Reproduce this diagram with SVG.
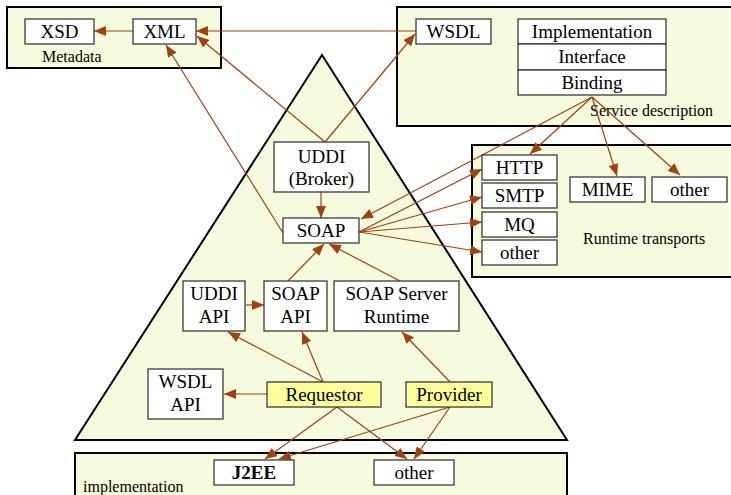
<svg xmlns="http://www.w3.org/2000/svg" width="731" height="495" viewBox="0 0 731 495">
<defs>
<style>
.cont{fill:#f5fbdc;stroke:#000;stroke-width:2}
.box{fill:#fff;stroke:#3a3a3a;stroke-width:1.3}
.ybox{fill:#ffff99;stroke:#3a3a3a;stroke-width:1.3}
.t{font-family:"Liberation Serif","Times New Roman",serif;font-size:19px;fill:#000;text-anchor:middle}
.lbl{font-family:"Liberation Serif","Times New Roman",serif;font-size:16px;fill:#000}
.c{stroke:#a3400e;stroke-width:1.2;fill:none;marker-end:url(#ah)}
</style>
<marker id="ah" viewBox="0 0 12 10" refX="12" refY="5" markerWidth="12" markerHeight="10" markerUnits="userSpaceOnUse" orient="auto">
<path d="M0,0 L12,5 L0,10 z" fill="#a3400e"/>
</marker>
</defs>
<rect width="731" height="495" fill="#fff"/>

<g id="metadata">
<rect class="cont" x="7" y="7" width="214" height="61"/>
<text class="lbl" x="42" y="62">Metadata</text>
</g>
<g id="service-description">
<rect class="cont" x="397" y="7" width="345" height="119"/>
<text class="lbl" x="590" y="116">Service description</text>
</g>
<g id="runtime-transports">
<rect class="cont" x="472" y="145" width="270" height="132"/>
<text class="lbl" x="583" y="244">Runtime transports</text>
</g>
<g id="implementation">
<rect class="cont" x="75" y="453" width="492" height="60"/>
<text class="lbl" x="83" y="492">implementation</text>
</g>
<g id="pyramid">
<polygon class="cont" points="322,55 75,440 567,440"/>
</g>

<g id="connectors">
<line class="c" x1="133" y1="31" x2="94" y2="31"/>
<line class="c" x1="416" y1="31" x2="196" y2="31"/>
<line class="c" x1="325" y1="142" x2="197" y2="36"/>
<line class="c" x1="325" y1="142" x2="415" y2="34"/>
<line class="c" x1="283" y1="233" x2="166" y2="45"/>
<line class="c" x1="321" y1="192" x2="321" y2="218"/>
<line class="c" x1="359" y1="232" x2="482" y2="169"/>
<line class="c" x1="359" y1="232" x2="482" y2="197"/>
<line class="c" x1="359" y1="232" x2="482" y2="222"/>
<line class="c" x1="359" y1="232" x2="482" y2="252"/>
<line class="c" x1="592" y1="97" x2="361" y2="219"/>
<line class="c" x1="592" y1="97" x2="530" y2="154"/>
<line class="c" x1="592" y1="97" x2="617" y2="176"/>
<line class="c" x1="592" y1="97" x2="680" y2="175"/>
<line class="c" x1="246" y1="305" x2="264" y2="305"/>
<line class="c" x1="288" y1="281" x2="324" y2="244"/>
<line class="c" x1="400" y1="281" x2="329" y2="244"/>
<line class="c" x1="323" y1="382" x2="228" y2="332"/>
<line class="c" x1="323" y1="382" x2="302" y2="332"/>
<line class="c" x1="267" y1="394" x2="224" y2="394"/>
<line class="c" x1="450" y1="382" x2="402" y2="332"/>
<line class="c" x1="337" y1="407" x2="265" y2="459"/>
<line class="c" x1="450" y1="407" x2="279" y2="459"/>
<line class="c" x1="337" y1="407" x2="407" y2="459"/>
<line class="c" x1="450" y1="407" x2="414" y2="459"/>
</g>

<g id="xsd"><rect class="box" x="25" y="19" width="69" height="25"/><text class="t" x="59.5" y="38">XSD</text></g>
<g id="xml"><rect class="box" x="133" y="19" width="63" height="25"/><text class="t" x="164.5" y="38">XML</text></g>
<g id="wsdl"><rect class="box" x="416" y="19" width="75" height="25"/><text class="t" x="453.5" y="38">WSDL</text></g>
<g id="impl-stack">
<rect class="box" x="518" y="19" width="148" height="25"/><text class="t" x="592" y="38">Implementation</text>
<rect class="box" x="518" y="44" width="148" height="26"/><text class="t" x="592" y="63">Interface</text>
<rect class="box" x="518" y="70" width="148" height="25"/><text class="t" x="592" y="88.5">Binding</text>
</g>
<g id="http"><rect class="box" x="482" y="155" width="75" height="25"/><text class="t" x="519.5" y="174">HTTP</text></g>
<g id="smtp"><rect class="box" x="482" y="183" width="75" height="25"/><text class="t" x="519.5" y="202">SMTP</text></g>
<g id="mq"><rect class="box" x="482" y="212" width="75" height="25"/><text class="t" x="519.5" y="231">MQ</text></g>
<g id="other-transport"><rect class="box" x="482" y="240" width="75" height="25"/><text class="t" x="519.5" y="259">other</text></g>
<g id="mime"><rect class="box" x="570" y="177" width="75" height="25"/><text class="t" x="607.5" y="196">MIME</text></g>
<g id="other-desc"><rect class="box" x="652" y="177" width="75" height="25"/><text class="t" x="689.5" y="196">other</text></g>
<g id="uddi-broker"><rect class="box" x="274" y="142" width="95" height="50"/><text class="t" x="321.5" y="163">UDDI</text><text class="t" x="321.5" y="185">(Broker)</text></g>
<g id="soap"><rect class="box" x="283" y="218" width="76" height="25"/><text class="t" x="321" y="237">SOAP</text></g>
<g id="uddi-api"><rect class="box" x="183" y="281" width="62" height="50"/><text class="t" x="214" y="300">UDDI</text><text class="t" x="214" y="323">API</text></g>
<g id="soap-api"><rect class="box" x="264" y="281" width="63" height="50"/><text class="t" x="295.5" y="300">SOAP</text><text class="t" x="295.5" y="323">API</text></g>
<g id="soap-server"><rect class="box" x="334" y="281" width="125" height="50"/><text class="t" x="396.5" y="300">SOAP Server</text><text class="t" x="396.5" y="323">Runtime</text></g>
<g id="wsdl-api"><rect class="box" x="148" y="369" width="75" height="50"/><text class="t" x="185.5" y="388">WSDL</text><text class="t" x="185.5" y="411">API</text></g>
<g id="requestor"><rect class="ybox" x="267" y="382" width="114" height="25"/><text class="t" x="324" y="401">Requestor</text></g>
<g id="provider"><rect class="ybox" x="406" y="382" width="86" height="25"/><text class="t" x="449" y="401">Provider</text></g>
<g id="j2ee"><rect class="box" x="214" y="460" width="80" height="25"/><text class="t" x="254" y="479" font-weight="bold">J2EE</text></g>
<g id="other-impl"><rect class="box" x="374" y="460" width="80" height="25"/><text class="t" x="414" y="479">other</text></g>
</svg>
